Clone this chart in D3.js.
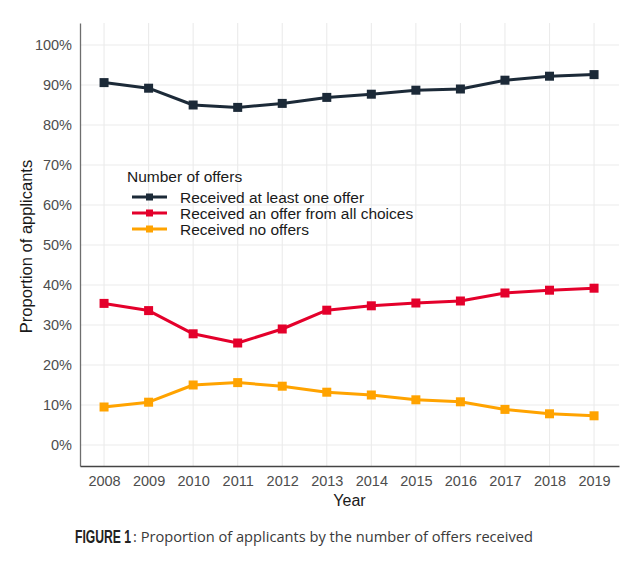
<!DOCTYPE html>
<html>
<head>
<meta charset="utf-8">
<script src="https://cdn.jsdelivr.net/npm/d3@7"></script>
<style>
  body { margin: 0; background: #fff; }
  svg { display: block; }
</style>
</head>
<body>
<script>
const years = [2008, 2009, 2010, 2011, 2012, 2013, 2014, 2015, 2016, 2017, 2018, 2019];
const atLeastOne = [90.6, 89.2, 85.0, 84.4, 85.4, 86.9, 87.7, 88.7, 89.0, 91.2, 92.2, 92.6];
const allChoices = [35.4, 33.6, 27.8, 25.5, 29.0, 33.7, 34.8, 35.5, 36.0, 38.0, 38.7, 39.2];
const noOffers = [9.5, 10.7, 15.0, 15.6, 14.7, 13.2, 12.5, 11.3, 10.8, 8.9, 7.8, 7.3];
const seriesNames = ["Received at least one offer", "Received an offer from all choices", "Received no offers"];
const seriesColors = ["#1c2a38", "#e4002b", "#ffa300"];
const yTicks = [0, 10, 20, 30, 40, 50, 60, 70, 80, 90, 100];

const series = [atLeastOne, allChoices, noOffers].map((vals, i) => ({
  name: seriesNames[i], color: seriesColors[i],
  points: years.map((yr, j) => ({ year: yr, value: vals[j] }))
}));

const W = 642, H = 566;
const pLeft = 80, pRight = 619, pTop = 23, pBottom = 466;

const svg = d3.select("body").append("svg").attr("width", W).attr("height", H);

const x = d3.scaleLinear().domain([2008 - 0.54, 2019 + 0.56]).range([pLeft, pRight]);
const y = d3.scaleLinear().domain([-5.25, 105.5]).range([pBottom, pTop]);

// gridlines
const grid = svg.append("g");
grid.selectAll("line.h").data(yTicks).join("line").attr("class", "h")
  .attr("x1", pLeft).attr("x2", pRight)
  .attr("y1", d => y(d)).attr("y2", d => y(d))
  .attr("stroke", "#ebebeb").attr("stroke-width", 1.1);
grid.selectAll("line.v").data(years).join("line").attr("class", "v")
  .attr("x1", d => x(d)).attr("x2", d => x(d))
  .attr("y1", pTop).attr("y2", pBottom)
  .attr("stroke", "#ebebeb").attr("stroke-width", 1.1);

// axes
const font = "'Liberation Sans', Arial, Helvetica, sans-serif";
const yAxis = d3.axisLeft(y).tickValues(yTicks).tickFormat(d => d + "%").tickSize(0).tickPadding(8);
const gy = svg.append("g").attr("transform", `translate(${pLeft},0)`).call(yAxis);
gy.select(".domain").attr("stroke", "#6e6e6e").attr("stroke-width", 1.3);
gy.selectAll("text").attr("font-family", font).attr("font-size", 14.5).attr("fill", "#4d4d4d");

const xAxis = d3.axisBottom(x).tickValues(years).tickFormat(d3.format("d")).tickSize(0).tickPadding(10);
const gx = svg.append("g").attr("transform", `translate(0,${pBottom})`).call(xAxis);
gx.select(".domain").attr("stroke", "#444").attr("stroke-width", 1.3);
gx.selectAll("text").attr("font-family", font).attr("font-size", 14.5).attr("fill", "#4d4d4d");

// axis titles
svg.append("text").attr("x", (pLeft + pRight) / 2).attr("y", 506)
  .attr("text-anchor", "middle").attr("font-family", font).attr("font-size", 16).attr("fill", "#1a1a1a")
  .text("Year");
svg.append("text").attr("transform", `translate(32,${(pTop + pBottom) / 2 + 2}) rotate(-90)`)
  .attr("text-anchor", "middle").attr("font-family", font).attr("font-size", 16.5).attr("fill", "#1a1a1a")
  .text("Proportion of applicants");

// lines
const line = d3.line().x(d => x(d.year)).y(d => y(d.value));
const gs = svg.append("g");
series.forEach(s => {
  gs.append("path").datum(s.points).attr("d", line)
    .attr("fill", "none").attr("stroke", s.color).attr("stroke-width", 3).attr("stroke-linejoin", "round");
  gs.append("g").selectAll("rect").data(s.points).join("rect")
    .attr("x", d => x(d.year) - 4.5).attr("y", d => y(d.value) - 4.5)
    .attr("width", 9).attr("height", 9).attr("fill", s.color);
});

// legend
const lg = svg.append("g");
lg.append("text").attr("x", 127).attr("y", 182)
  .attr("font-family", font).attr("font-size", 15.5).attr("fill", "#1a1a1a").text("Number of offers");
series.forEach((s, i) => {
  const cy = 197 + i * 16;
  lg.append("line").attr("x1", 132).attr("x2", 167).attr("y1", cy).attr("y2", cy)
    .attr("stroke", s.color).attr("stroke-width", 3);
  lg.append("rect").attr("x", 146).attr("y", cy - 3.5).attr("width", 7).attr("height", 7).attr("fill", s.color);
  lg.append("text").attr("x", 180).attr("y", cy + 5.5)
    .attr("font-family", font).attr("font-size", 15.5).attr("fill", "#1a1a1a").text(s.name);
});

// caption
svg.append("text").attr("transform", "translate(75,543) scale(0.64,1)")
  .attr("font-family", "'Liberation Sans', sans-serif")
  .attr("font-weight", "bold").attr("font-size", 19).attr("fill", "#222")
  .text("FIGURE 1");
svg.append("text").attr("x", 133).attr("y", 542)
  .attr("font-family", "'Open Sans', 'Lato', sans-serif")
  .attr("font-size", 15).attr("fill", "#3a3a3a")
  .attr("textLength", 400).attr("lengthAdjust", "spacingAndGlyphs")
  .text(": Proportion of applicants by the number of offers received");
</script>
</body>
</html>
